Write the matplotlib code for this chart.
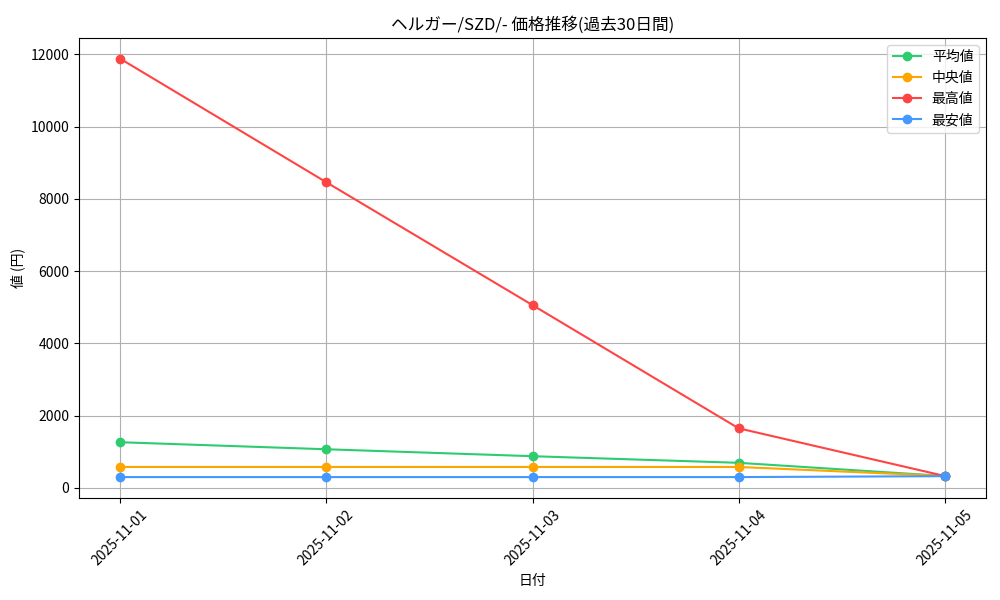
import matplotlib
matplotlib.use("Agg")
import matplotlib.pyplot as plt

plt.rcParams['font.family'] = ['Noto Sans CJK JP', 'DejaVu Sans']

dates = ["2025-11-01", "2025-11-02", "2025-11-03", "2025-11-04", "2025-11-05"]
avg_vals = [1265, 1070, 878, 695, 330]
median_vals = [580, 580, 580, 580, 330]
max_vals = [11880, 8460, 5060, 1650, 330]
min_vals = [300, 300, 300, 300, 325]

fig, ax = plt.subplots(figsize=(10, 6), dpi=100)

ax.plot(dates, avg_vals, marker='o', color='#2ecc71', label='平均値')
ax.plot(dates, median_vals, marker='o', color='#ffa500', label='中央値')
ax.plot(dates, max_vals, marker='o', color='#ff4444', label='最高値')
ax.plot(dates, min_vals, marker='o', color='#4499ff', label='最安値')

ax.set_title("ヘルガー/SZD/- 価格推移(過去30日間)")
ax.set_xlabel("日付")
ax.set_ylabel("値 (円)")
ax.grid(True)
ax.legend(loc='upper right')
plt.xticks(rotation=45)

fig.subplots_adjust(left=0.079, right=0.986, top=0.937, bottom=0.17)
plt.savefig("out.png")
